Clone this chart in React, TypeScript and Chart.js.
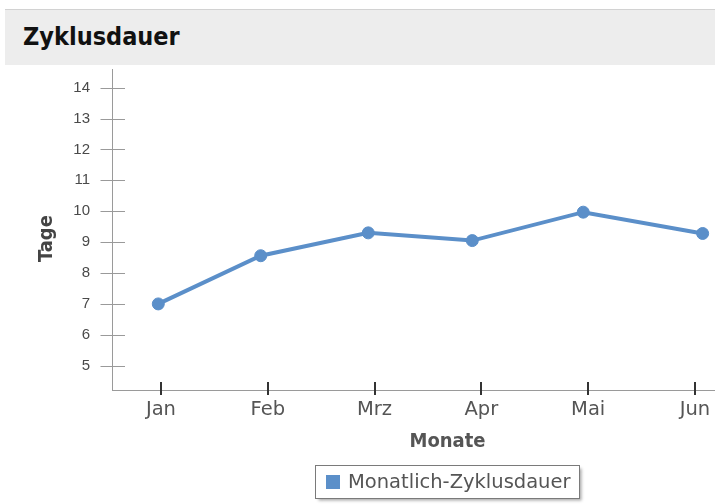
import React, { useEffect, useRef } from "react";
import { Chart, registerables } from "chart.js";

Chart.register(...registerables);

// ---- data ----
const chartTitle = "Zyklusdauer";
const seriesLabel = "Monatlich-Zyklusdauer";
const xAxisTitle = "Monate";
const yAxisTitle = "Tage";
const months = ["Jan", "Feb", "Mrz", "Apr", "Mai", "Jun"];
// where each monthly reading sits along the month axis (month index units)
const monthPositions = [-0.025, 0.934, 1.941, 2.915, 3.954, 5.072];
const cycleDays = [7.0, 8.56, 9.3, 9.05, 9.97, 9.28];
const dayTicks = [5, 6, 7, 8, 9, 10, 11, 12, 13, 14];

const LINE_COLOR = "#5b8fc9";
const BOLD_FAMILY = '"DejaVu Sans Condensed", "DejaVu Sans", sans-serif';
const REG_FAMILY = '"DejaVu Sans", sans-serif';

const decorPlugin = {
  id: "decor",
  beforeDatasetsDraw(chart: any) {
    const { ctx, chartArea } = chart;
    const xs = chart.scales.x;
    const ys = chart.scales.y;
    ctx.save();
    // axis lines
    ctx.strokeStyle = "#9a9a9a";
    ctx.lineWidth = 1;
    ctx.beginPath();
    ctx.moveTo(chartArea.left - 0.5, chartArea.top);
    ctx.lineTo(chartArea.left - 0.5, chartArea.bottom + 1);
    ctx.moveTo(chartArea.left - 1, chartArea.bottom + 0.5);
    ctx.lineTo(chart.width, chartArea.bottom + 0.5);
    ctx.stroke();
    // y ticks (crossing the axis)
    ctx.beginPath();
    dayTicks.forEach((v) => {
      const py = Math.round(ys.getPixelForValue(v)) + 0.5;
      ctx.moveTo(chartArea.left - 12.5, py);
      ctx.lineTo(chartArea.left + 12, py);
    });
    ctx.stroke();
    // x ticks (crossing the axis)
    ctx.strokeStyle = "#333";
    ctx.lineWidth = 2;
    ctx.beginPath();
    months.forEach((_, i) => {
      const px = Math.round(xs.getPixelForValue(i));
      ctx.moveTo(px, chartArea.bottom - 8);
      ctx.lineTo(px, chartArea.bottom + 5);
    });
    ctx.stroke();
    ctx.restore();
  },
  afterDraw(chart: any) {
    const { ctx, chartArea } = chart;
    ctx.save();
    // y axis title
    ctx.translate(46.5, chartArea.top + 169.5);
    ctx.rotate(-Math.PI / 2);
    ctx.font = `bold 20px ${BOLD_FAMILY}`;
    ctx.fillStyle = "#444";
    ctx.textAlign = "center";
    ctx.textBaseline = "middle";
    ctx.fillText(yAxisTitle, 0, 0);
    ctx.restore();

    // legend box
    const ds = chart.data.datasets[0];
    ctx.save();
    ctx.font = `19.5px ${REG_FAMILY}`;
    const tw = ctx.measureText(ds.label).width;
    const marker = 14;
    const padL = 10;
    const gap = 8.5;
    const padR = 9;
    const boxW = Math.round(padL + marker + gap + tw + padR);
    const boxH = 33;
    const cx = (chartArea.left + chartArea.right) / 2;
    const bl = Math.round(cx - boxW / 2) - 0.5;
    const bt = chartArea.bottom + 75 + 0.5;
    ctx.shadowColor = "rgba(0,0,0,0.35)";
    ctx.shadowBlur = 3;
    ctx.shadowOffsetX = 2;
    ctx.shadowOffsetY = 2;
    ctx.fillStyle = "#fff";
    ctx.fillRect(bl, bt, boxW, boxH);
    ctx.shadowColor = "transparent";
    ctx.strokeStyle = "#7a7a7a";
    ctx.lineWidth = 1;
    ctx.strokeRect(bl, bt, boxW, boxH);
    ctx.fillStyle = LINE_COLOR;
    ctx.fillRect(Math.round(bl + padL), Math.round(bt + (boxH - marker) / 2), marker, marker);
    ctx.fillStyle = "#555";
    ctx.textAlign = "left";
    ctx.textBaseline = "middle";
    ctx.fillText(ds.label, bl + padL + marker + gap, bt + boxH / 2 + 1);
    ctx.restore();
  },
};

export default function App() {
  const ref = useRef<HTMLCanvasElement | null>(null);

  useEffect(() => {
    if (!ref.current) return;
    const chart = new Chart(ref.current, {
      type: "line",
      data: {
        datasets: [
          {
            label: seriesLabel,
            data: monthPositions.map((x, i) => ({ x, y: cycleDays[i] })),
            borderColor: LINE_COLOR,
            backgroundColor: LINE_COLOR,
            pointBackgroundColor: LINE_COLOR,
            pointBorderColor: LINE_COLOR,
            borderWidth: 4,
            pointRadius: 6,
            pointBorderWidth: 1,
            tension: 0,
            fill: false,
          },
        ],
      },
      options: {
        responsive: false,
        animation: false,
        events: [],
        layout: { autoPadding: false, padding: { top: 4, left: 0, right: 0, bottom: 0 } },
        plugins: {
          legend: { display: false },
          tooltip: { enabled: false },
          title: { display: false },
        },
        scales: {
          x: {
            type: "linear",
            position: "bottom",
            min: -0.449,
            max: 5.815,
            afterBuildTicks: (s: any) => {
              s.ticks = months.map((_, i) => ({ value: i }));
            },
            afterFit: (s: any) => {
              s.height = 114;
              s.paddingLeft = 0;
              s.paddingRight = 0;
            },
            grid: { display: false },
            border: { display: false },
            ticks: {
              autoSkip: false,
              maxRotation: 0,
              padding: 0.5,
              color: "#555",
              font: { family: REG_FAMILY, size: 19.5 },
              callback: (v: any) => months[v] ?? "",
            },
            title: {
              display: true,
              text: xAxisTitle,
              color: "#555",
              font: { family: BOLD_FAMILY, size: 20, weight: "bold" },
              padding: { top: 0, bottom: 50 },
            },
          },
          y: {
            type: "linear",
            position: "left",
            min: 4.213,
            max: 14.605,
            afterBuildTicks: (s: any) => {
              s.ticks = dayTicks.map((v) => ({ value: v }));
            },
            afterFit: (s: any) => {
              s.width = 113;
              s.paddingTop = 0;
              s.paddingBottom = 0;
            },
            grid: { display: false },
            border: { display: false },
            ticks: {
              padding: 15,
              color: "#4a4a4a",
              font: { family: '"Liberation Sans", Arial, sans-serif', size: 15 },
            },
            title: { display: false },
          },
        },
      },
      plugins: [decorPlugin],
    } as any);
    return () => chart.destroy();
  }, []);

  return (
    <div
      style={{
        position: "absolute",
        left: 0,
        top: 0,
        width: 715,
        height: 504,
        overflow: "hidden",
        background: "#fff",
      }}
    >
      <div
        style={{
          position: "absolute",
          left: 5,
          top: 9,
          width: 710,
          height: 55,
          background: "#ededed",
          borderTop: "1px solid #d2d2d2",
        }}
      >
        <span
          style={{
            position: "absolute",
            left: 18,
            top: 14,
            fontFamily: BOLD_FAMILY,
            fontWeight: "bold",
            fontSize: 25,
            lineHeight: "25px",
            color: "#111",
            whiteSpace: "nowrap",
          }}
        >
          {chartTitle}
        </span>
      </div>
      <div
        style={{
          position: "absolute",
          left: 0,
          top: 65,
          width: 715,
          height: 439,
          overflow: "hidden",
        }}
      >
        <canvas ref={ref} width={782} height={439} style={{ display: "block" }} />
      </div>
    </div>
  );
}
